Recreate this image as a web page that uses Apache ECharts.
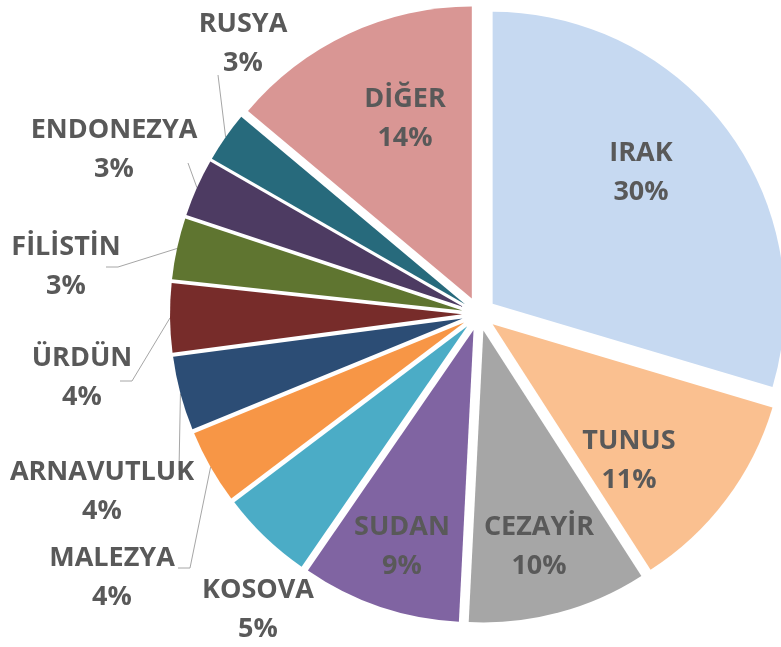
<!DOCTYPE html>
<html>
<head>
<meta charset="utf-8">
<title>Pie</title>
<script src="https://cdn.jsdelivr.net/npm/echarts@6/dist/echarts.min.js"></script>
<style>
html, body { margin: 0; padding: 0; background: #fff; }
#chart { width: 781px; height: 647px; }
</style>
</head>
<body>
<div id="chart"></div>
<script>
// data (share in %)
var countries = ['IRAK', 'TUNUS', 'CEZAYİR', 'SUDAN', 'KOSOVA', 'MALEZYA', 'ARNAVUTLUK', 'ÜRDÜN', 'FİLİSTİN', 'ENDONEZYA', 'RUSYA', 'DİĞER']
var shares = [29.6, 11.3, 9.9, 8.8, 5.1, 4.1, 4.1, 3.8, 3.4, 3.2, 2.8, 13.9]
var sliceColors = ['#C6D9F1', '#FAC090', '#A6A6A6', '#8064A2', '#4BACC6', '#F79646', '#2C4D75', '#772C2A', '#5F7530', '#4D3B62', '#276A7C', '#D99694']
var insideNames = ['IRAK', 'TUNUS', 'CEZAYİR', 'SUDAN', 'DİĞER']

// where excel put the labels: centre of text block, then where the leader
// line meets the label (relative to that centre) and the short tail
var labelSpots = {
    'IRAK': [641, 173],
    'DİĞER': [405, 119],
    'TUNUS': [629, 461],
    'CEZAYİR': [539, 547],
    'SUDAN': [402, 547],
    'KOSOVA': [258, 610],
    'MALEZYA': [112, 578, 78, -10, -12],
    'ARNAVUTLUK': [102, 492, 77, -22, 0],
    'ÜRDÜN': [82, 378, 50, 3, -12],
    'FİLİSTİN': [66, 267, 52, 0, -12],
    'ENDONEZYA': [114, 150, 74, 13, 0],
    'RUSYA': [243, 44, -25, 31, 0]
}

var CX = 479
var CY = 314
var R = 292
var EXPLODE = 17

var chart = echarts.init(document.getElementById('chart'), null, { renderer: 'canvas' })

function sliceData (withStyle) {
    return countries.map(function (name, i) {
        var item = { name: name, value: shares[i] }
        if (withStyle) {
            item.selected = true
            item.itemStyle = { color: sliceColors[i] }
        } else {
            var inside = insideNames.indexOf(name) >= 0
            item.label = { position: inside ? 'inside' : 'outside' }
            item.labelLine = { show: !inside && name !== 'KOSOVA' }
        }
        return item
    })
}

chart.setOption({
    backgroundColor: '#ffffff',
    animation: false,
    series: [
        {
            // the slices, all pulled out a bit like in excel
            type: 'pie',
            center: [CX, CY],
            radius: R,
            startAngle: 90,
            clockwise: true,
            selectedMode: 'multiple',
            selectedOffset: EXPLODE,
            silent: true,
            label: { show: false },
            labelLine: { show: false },
            emphasis: { disabled: true },
            data: sliceData(true)
        },
        {
            // transparent copy only carrying the labels
            type: 'pie',
            center: [CX, CY],
            radius: [150, R],
            startAngle: 90,
            clockwise: true,
            silent: true,
            avoidLabelOverlap: false,
            itemStyle: { color: 'rgba(0,0,0,0)' },
            emphasis: { disabled: true },
            label: {
                show: true,
                formatter: function (p) {
                    return p.name + '\n' + Math.round(p.percent) + '%'
                },
                color: '#595959',
                fontFamily: 'Open Sans',
                fontWeight: 'bold',
                fontSize: 27,
                lineHeight: 39
            },
            labelLine: {
                length: 10,
                length2: 10,
                lineStyle: { color: '#A6A6A6', width: 1 }
            },
            labelLayout: function (p) {
                var name = countries[p.dataIndex]
                var spot = labelSpots[name]
                if (!spot) return {}
                var res = { x: spot[0], y: spot[1], align: 'center', verticalAlign: 'middle' }
                var pts = p.labelLinePoints
                if (!pts || spot.length < 3) return res
                // start on the pulled-out arc
                var dx = pts[0][0] - CX
                var dy = pts[0][1] - CY
                var d = Math.sqrt(dx * dx + dy * dy)
                var sx = pts[0][0] + dx / d * EXPLODE
                var sy = pts[0][1] + dy / d * EXPLODE
                var ex = spot[0] + spot[2]
                var ey = spot[1] + spot[3]
                var line = [[sx, sy], [ex, ey]]
                if (spot[4]) line.push([ex + spot[4], ey])
                res.labelLinePoints = line
                return res
            },
            data: sliceData(false)
        }
    ]
})
</script>
</body>
</html>
